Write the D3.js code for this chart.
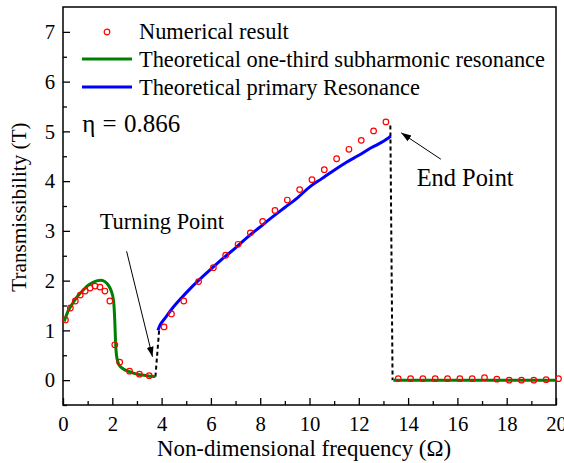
<!DOCTYPE html>
<html>
<head>
<meta charset="utf-8">
<script src="https://cdn.jsdelivr.net/npm/d3@7"></script>
<style>
  body { margin: 0; background: #fff; }
  svg text { font-family: "Liberation Serif", "Times New Roman", serif; fill: #000; }
</style>
</head>
<body>
<svg width="564" height="463"></svg>
<script>
// numerical result (red circles)
var numX = [0.1, 0.3, 0.5, 0.7, 0.9, 1.1, 1.3, 1.5, 1.7, 1.9, 2.1, 2.3, 2.7, 3.1, 3.5,
  4.1, 4.4, 4.9, 5.5, 6.1, 6.6, 7.1, 7.6, 8.1, 8.6, 9.1, 9.6, 10.1, 10.6, 11.1, 11.6, 12.1, 12.6, 13.1,
  13.6, 14.1, 14.6, 15.1, 15.6, 16.1, 16.6, 17.1, 17.6, 18.1, 18.6, 19.1, 19.6, 20.1];
var numY = [1.21, 1.45, 1.59, 1.71, 1.79, 1.85, 1.89, 1.87, 1.79, 1.59, 0.71, 0.36, 0.18, 0.12, 0.09,
  1.07, 1.33, 1.59, 1.98, 2.26, 2.51, 2.73, 2.96, 3.19, 3.41, 3.62, 3.83, 4.03, 4.23, 4.45, 4.64, 4.82, 5.01, 5.19,
  0.03, 0.03, 0.03, 0.03, 0.03, 0.03, 0.03, 0.05, 0.02, 0.0, 0.0, 0.0, 0.01, 0.03];

// theoretical one-third subharmonic resonance (green)
var subX = [0.05, 0.2, 0.4, 0.6, 0.8, 1.0, 1.2, 1.4, 1.55, 1.7, 1.85, 1.95, 2.05, 2.1, 2.13, 2.17, 2.25, 2.4, 2.7, 3.0, 3.4, 3.75];
var subY = [1.18, 1.38, 1.55, 1.69, 1.8, 1.9, 1.96, 2.0, 2.01, 1.98, 1.9, 1.8, 1.6, 1.2, 0.8, 0.5, 0.33, 0.24, 0.17, 0.12, 0.09, 0.07];
var subTailX = [13.4, 20];
var subTailY = [0.0, 0.0];

// theoretical primary resonance (blue)
var priX = [3.85, 3.95, 4.1, 4.4, 4.8, 5.2, 5.6, 6.0, 6.5, 7.0, 7.5, 8.0, 8.5, 9.0, 9.5, 10.0, 10.5, 11.0, 11.5, 12.0, 12.5, 13.0, 13.3];
var priY = [1.0, 1.12, 1.22, 1.42, 1.65, 1.86, 2.05, 2.23, 2.45, 2.66, 2.88, 3.08, 3.28, 3.47, 3.66, 3.88, 4.05, 4.22, 4.38, 4.52, 4.67, 4.8, 4.9];

// jumps (black dashed)
var jumpUpX = [3.75, 3.9];
var jumpUpY = [0.07, 1.0];
var jumpDownX = [13.28, 13.37];
var jumpDownY = [5.12, 0.0];

var xTicks = [0, 2, 4, 6, 8, 10, 12, 14, 16, 18, 20];
var yTicks = [0, 1, 2, 3, 4, 5, 6, 7];

var svg = d3.select("svg"),
  marginLeft = 63,
  marginTop = 7,
  width = 493,
  height = 398;

var xScale = d3.scaleLinear().domain([0, 20]).range([0, width]),
  yScale = d3.scaleLinear().domain([-0.5, 7.5]).range([height, 0]);

var g = svg.append("g").attr("transform", "translate(" + marginLeft + "," + marginTop + ")");

function pts(xs, ys) {
  return xs.map(function (x, i) { return [x, ys[i]]; });
}

var line = d3.line()
  .x(function (d) { return xScale(d[0]); })
  .y(function (d) { return yScale(d[1]); });

// minor ticks
g.append("g")
  .attr("transform", "translate(0," + height + ")")
  .call(d3.axisBottom(xScale).tickValues(d3.range(1, 20, 2)).tickSize(-4).tickFormat(""))
  .call(function (a) { a.select(".domain").remove(); });
g.append("g")
  .call(d3.axisLeft(yScale).tickValues(d3.range(-0.5, 7.5, 1)).tickSize(-4).tickFormat(""))
  .call(function (a) { a.select(".domain").remove(); });

// major ticks + labels
var xAxis = g.append("g")
  .attr("transform", "translate(0," + height + ")")
  .call(d3.axisBottom(xScale).tickValues(xTicks).tickSize(-7).tickPadding(11).tickFormat(d3.format("d")));
xAxis.select(".domain").remove();
xAxis.selectAll("text").attr("font-size", "20.7px");

var yAxis = g.append("g")
  .call(d3.axisLeft(yScale).tickValues(yTicks).tickSize(-7).tickPadding(8).tickFormat(d3.format("d")));
yAxis.select(".domain").remove();
yAxis.selectAll("text").attr("font-size", "20.7px");

g.selectAll(".tick line").attr("stroke", "#000").attr("stroke-width", 1.3);

// frame
g.append("rect")
  .attr("width", width)
  .attr("height", height)
  .attr("fill", "none")
  .attr("stroke", "#000")
  .attr("stroke-width", 1.5);

// dashed jumps
g.append("path")
  .datum(pts(jumpUpX, jumpUpY))
  .attr("d", line)
  .attr("fill", "none")
  .attr("stroke", "#000")
  .attr("stroke-width", 2)
  .attr("stroke-dasharray", "4,3");
g.append("path")
  .datum(pts(jumpDownX, jumpDownY))
  .attr("d", line)
  .attr("fill", "none")
  .attr("stroke", "#000")
  .attr("stroke-width", 2)
  .attr("stroke-dasharray", "4,3");

// theory curves
g.append("path")
  .datum(pts(subX, subY))
  .attr("d", line.curve(d3.curveMonotoneX))
  .attr("fill", "none")
  .attr("stroke", "#008000")
  .attr("stroke-width", 3);
g.append("path")
  .datum(pts(subTailX, subTailY))
  .attr("d", line.curve(d3.curveLinear))
  .attr("fill", "none")
  .attr("stroke", "#008000")
  .attr("stroke-width", 3);
g.append("path")
  .datum(pts(priX, priY))
  .attr("d", line.curve(d3.curveMonotoneX))
  .attr("fill", "none")
  .attr("stroke", "#0000ff")
  .attr("stroke-width", 3);

// numerical points
g.selectAll(".pt")
  .data(pts(numX, numY))
  .enter()
  .append("circle")
  .attr("class", "pt")
  .attr("cx", function (d) { return xScale(d[0]); })
  .attr("cy", function (d) { return yScale(d[1]); })
  .attr("r", 2.8)
  .attr("fill", "none")
  .attr("stroke", "#ff0000")
  .attr("stroke-width", 1.2);

// annotations
svg.append("defs").append("marker")
  .attr("id", "arr")
  .attr("viewBox", "0 0 10 10")
  .attr("refX", 10)
  .attr("refY", 5)
  .attr("markerWidth", 10)
  .attr("markerHeight", 10)
  .attr("markerUnits", "userSpaceOnUse")
  .attr("orient", "auto")
  .append("path")
  .attr("d", "M0,1.5L10,5L0,8.5z")
  .attr("fill", "#000");

var arrows = [[2.58, 2.59, 3.63, 0.47], [15.33, 4.44, 13.72, 4.97]];
g.selectAll(".arrow")
  .data(arrows)
  .enter()
  .append("line")
  .attr("x1", function (d) { return xScale(d[0]); })
  .attr("y1", function (d) { return yScale(d[1]); })
  .attr("x2", function (d) { return xScale(d[2]); })
  .attr("y2", function (d) { return yScale(d[3]); })
  .attr("stroke", "#000")
  .attr("stroke-width", 1)
  .attr("marker-end", "url(#arr)");

g.append("text")
  .attr("x", xScale(1.49))
  .attr("y", yScale(3.04))
  .attr("font-size", "22.4px")
  .text("Turning Point");
g.append("text")
  .attr("x", xScale(14.35))
  .attr("y", yScale(3.9))
  .attr("font-size", "24.4px")
  .text("End Point");

g.append("text")
  .attr("x", xScale(0.78))
  .attr("y", yScale(4.98))
  .attr("font-size", "25px")
  .attr("word-spacing", "1px")
  .text("\u03b7 = 0.866");

// legend
var legend = g.append("g").attr("transform", "translate(19,25)");
legend.append("circle")
  .attr("cx", 25).attr("cy", 0).attr("r", 2.8)
  .attr("fill", "none").attr("stroke", "#ff0000").attr("stroke-width", 1.2);
legend.append("line")
  .attr("x1", 0).attr("x2", 50).attr("y1", 27).attr("y2", 27)
  .attr("stroke", "#008000").attr("stroke-width", 3);
legend.append("line")
  .attr("x1", 0).attr("x2", 50).attr("y1", 55).attr("y2", 55)
  .attr("stroke", "#0000ff").attr("stroke-width", 3);
var legendText = ["Numerical result", "Theoretical one-third subharmonic resonance", "Theoretical primary Resonance"];
legend.selectAll(".lt")
  .data(legendText)
  .enter()
  .append("text")
  .attr("x", 57)
  .attr("y", function (d, i) { return i * 28 + 7; })
  .attr("font-size", "22.4px")
  .text(function (d) { return d; });

// axis titles
svg.append("text")
  .attr("x", 304)
  .attr("y", 456)
  .attr("text-anchor", "middle")
  .attr("font-size", "22.9px")
  .text("Non-dimensional frequency (\u03a9)");
svg.append("text")
  .attr("transform", "translate(26,207) rotate(-90)")
  .attr("text-anchor", "middle")
  .attr("font-size", "21.2px")
  .text("Transmissibility (T)");
</script>
</body>
</html>
